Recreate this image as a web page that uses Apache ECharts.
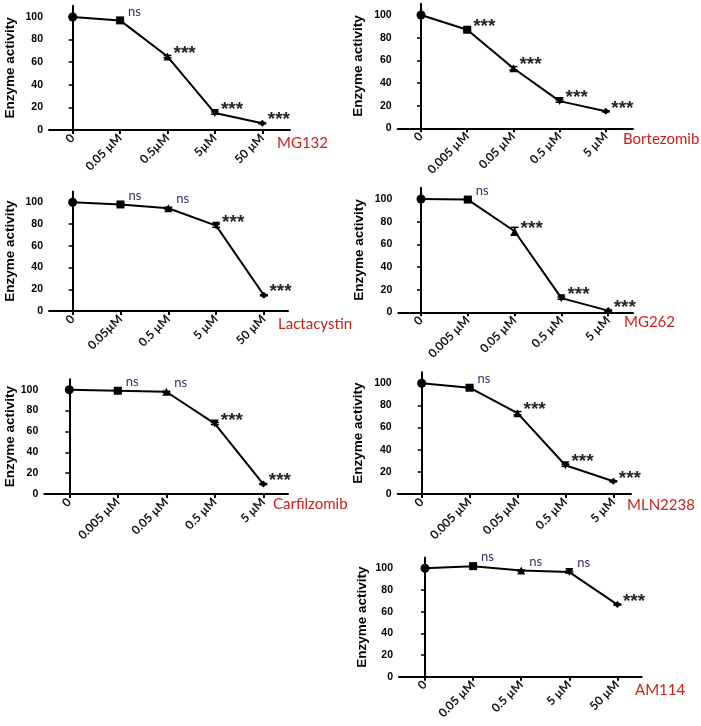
<!DOCTYPE html>
<html><head><meta charset="utf-8">
<script src="https://cdn.jsdelivr.net/npm/echarts@6/dist/echarts.min.js"></script>
<style>html,body{margin:0;padding:0;background:#fff}#c{width:701px;height:726px}</style>
</head><body><div id="c"></div>
<script>
// ---- data ----
const namesPanels = ["MG132", "Bortezomib", "Lactacystin", "MG262", "Carfilzomib", "MLN2238", "AM114"];
const cats1 = ["0", "0.05 µM", "0.5µM", "5µM", "50 µM"];
const vals1 = [100, 97, 65, 15, 6];
const err1 = [0, 1, 1, 1, 0.5];
const sig1 = ["", "ns", "***", "***", "***"];

const cats2 = ["0", "0.005 µM", "0.05 µM", "0.5 µM", "5 µM"];
const vals2 = [100, 87, 53, 24, 15];
const err2 = [0, 1, 1.5, 1, 0.5];
const sig2 = ["", "***", "***", "***", "***"];

const cats3 = ["0", "0.05µM", "0.5 µM", "5 µM", "50 µM"];
const vals3 = [100, 98, 94.5, 78.5, 14.5];
const err3 = [0, 1, 1, 1.5, 0.5];
const sig3 = ["", "ns", "ns", "***", "***"];

const cats4 = ["0", "0.005 µM", "0.05 µM", "0.5 µM", "5 µM"];
const vals4 = [100, 99.5, 71.5, 12.5, 1.5];
const err4 = [0, 1, 3.5, 1, 0.5];
const sig4 = ["", "ns", "***", "***", "***"];

const cats5 = ["0", "0.005 µM", "0.05 µM", "0.5 µM", "5 µM"];
const vals5 = [100, 99, 98, 67.5, 9.5];
const err5 = [0, 1, 0.5, 1, 0.5];
const sig5 = ["", "ns", "ns", "***", "***"];

const cats6 = ["0", "0.005 µM", "0.05 µM", "0.5 µM", "5 µM"];
const vals6 = [100, 96, 73, 26, 11.5];
const err6 = [0, 1, 1.5, 1, 0.5];
const sig6 = ["", "ns", "***", "***", "***"];

const cats7 = ["0", "0.05 µM", "0.5 µM", "5 µM", "50 µM"];
const vals7 = [100, 102, 98, 96.5, 66.5];
const err7 = [0, 1, 0.5, 1, 0.5];
const sig7 = ["", "ns", "ns", "ns", "***"];

const yTicks = [0, 20, 40, 60, 80, 100];

// ---- layout (pixel geometry of each panel) ----
const layouts = [
  {L: 49, y0: 130, y100: 17, c0: 72.7, sp: 47.4, E: 290, ng: 32, tx: 277, ty: 145},
  {L: 397.7, y0: 128.3, y100: 15, c0: 421, sp: 46.2, E: 633, ng: 32, tx: 623, ty: 141},
  {L: 49, y0: 311, y100: 202.3, c0: 72.7, sp: 47.8, E: 288, ng: 32, tx: 278, ty: 326},
  {L: 398.3, y0: 312.3, y100: 199, c0: 421, sp: 46.8, E: 633, ng: 32, tx: 624, ty: 324},
  {L: 44.3, y0: 494, y100: 389.7, c0: 69.3, sp: 48.5, E: 288, ng: 27, tx: 273, ty: 506},
  {L: 397.7, y0: 494, y100: 383.3, c0: 421.7, sp: 47.9, E: 631, ng: 32, tx: 627, ty: 507},
  {L: 399, y0: 676.7, y100: 568.3, c0: 425, sp: 48.1, E: 641.7, ng: 29.5, tx: 635, ty: 692}
];

const allCats = [cats1, cats2, cats3, cats4, cats5, cats6, cats7];
const allVals = [vals1, vals2, vals3, vals4, vals5, vals6, vals7];
const allErr = [err1, err2, err3, err4, err5, err6, err7];
const allSig = [sig1, sig2, sig3, sig4, sig5, sig6, sig7];

const symbols = ["circle", "rect", "triangle", "path://M0,0 L10,0 L5,9 Z", "diamond"];
const symSizes = [9, 8, 8, 8, 7];

const chart = echarts.init(document.getElementById('c'), null, {renderer: 'canvas'});
const grids = [], xAxes = [], yAxes = [], series = [], graphics = [];

layouts.forEach((g, k) => {
  const top = g.y0 - 110 * (g.y0 - g.y100) / 100;
  grids.push({left: g.L, top: top, width: g.E - g.L, height: g.y0 - top, containLabel: false});
  const cats = allCats[k];
  xAxes.push({
    type: 'value', gridIndex: k,
    min: -(g.c0 - g.L) / g.sp, max: (g.E - g.c0) / g.sp,
    splitLine: {show: false},
    axisLine: {show: true, onZero: false, lineStyle: {color: '#000', width: 2}},
    axisTick: {show: true, customValues: [0, 1, 2, 3, 4], length: 4, lineStyle: {color: '#000', width: 2}},
    axisLabel: {show: true, customValues: [0, 1, 2, 3, 4], rotate: 45, margin: 6,
      formatter: v => cats[Math.round(v)],
      fontFamily: 'Lato', fontWeight: 'bold', fontSize: 12, color: '#111'}
  });
  yAxes.push({
    type: 'value', gridIndex: k, min: 0, max: 110,
    name: 'Enzyme activity', nameLocation: 'middle', nameGap: g.ng,
    nameTextStyle: {fontFamily: 'Liberation Sans', fontWeight: 'bold', fontSize: 13.5, color: '#000'},
    splitLine: {show: false},
    axisLine: {show: true, lineStyle: {color: '#000', width: 2}},
    axisTick: {show: true, customValues: yTicks, length: 4, lineStyle: {color: '#000', width: 1.5}},
    axisLabel: {show: true, customValues: yTicks, margin: 6,
      fontFamily: 'Liberation Sans', fontWeight: 'bold', fontSize: 10.5, color: '#000'}
  });
  const vals = allVals[k], sig = allSig[k], err = allErr[k];
  series.push({
    type: 'line', xAxisIndex: k, yAxisIndex: k,
    lineStyle: {color: '#000', width: 2},
    itemStyle: {color: '#000'},
    z: 3,
    data: vals.map((v, i) => ({
      value: [i, v], symbol: symbols[i], symbolSize: symSizes[i],
      label: {
        show: sig[i] !== '', formatter: sig[i], position: 'right', distance: sig[i] === 'ns' ? 4 : 2,
        offset: sig[i] === 'ns' ? [0, -9] : [0, -3],
        fontFamily: sig[i] === 'ns' ? 'Lato' : 'Liberation Sans',
        fontWeight: sig[i] === 'ns' ? 'normal' : 'bold',
        fontSize: sig[i] === 'ns' ? 13 : 19,
        color: sig[i] === 'ns' ? '#3d2b6b' : '#1e2626'
      }
    }))
  });
  series.push({
    type: 'custom', xAxisIndex: k, yAxisIndex: k, z: 4, silent: true,
    data: vals.map((v, i) => [i, v, err[i]]),
    renderItem: (params, api) => {
      const i = api.value(0), v = api.value(1), e = api.value(2);
      if (!e) return null;
      const pTop = api.coord([i, v + e]);
      const pBot = api.coord([i, v - e]);
      const w = 4;
      return {type: 'group', children: [
        {type: 'line', shape: {x1: pTop[0], y1: pTop[1], x2: pBot[0], y2: pBot[1]}, style: {stroke: '#000', lineWidth: 1.5}},
        {type: 'line', shape: {x1: pTop[0] - w, y1: pTop[1], x2: pTop[0] + w, y2: pTop[1]}, style: {stroke: '#000', lineWidth: 1.5}},
        {type: 'line', shape: {x1: pBot[0] - w, y1: pBot[1], x2: pBot[0] + w, y2: pBot[1]}, style: {stroke: '#000', lineWidth: 1.5}}
      ]};
    }
  });
  graphics.push({
    type: 'text', left: g.tx, top: g.ty - 9,
    style: {text: namesPanels[k], fontFamily: 'Lato', fontSize: 15, fill: '#cc1f1a'}
  });
});

chart.setOption({
  animation: false,
  backgroundColor: '#fff',
  grid: grids, xAxis: xAxes, yAxis: yAxes, series: series, graphic: graphics
});
</script></body></html>
